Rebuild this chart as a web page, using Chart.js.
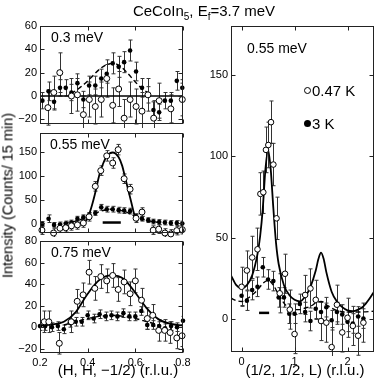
<!DOCTYPE html>
<html><head><meta charset="utf-8">
<script src="https://cdn.jsdelivr.net/npm/chart.js@4.4.1/dist/chart.umd.min.js"></script>
<style>
html,body{margin:0;padding:0;background:#fff;}
#wrap{position:relative;width:382px;height:385px;overflow:hidden;font-family:"Liberation Sans",Arial,sans-serif;color:#000;}
canvas{position:absolute;left:0;top:0;}
.t{position:absolute;white-space:nowrap;line-height:17px;}
sub{font-size:10px;vertical-align:-4px;line-height:0;}
.mk{position:absolute;border-radius:50%;box-sizing:border-box;}
</style></head><body>
<div id="wrap">
<canvas id="c1" width="382" height="385"></canvas>
<canvas id="c2" width="382" height="385"></canvas>
<canvas id="c3" width="382" height="385"></canvas>
<canvas id="c4" width="382" height="385"></canvas>
<div class="t" style="left:0;width:408px;text-align:center;top:2px;font-size:15px">CeCoIn<sub>5</sub>, E<sub>f</sub>=3.7 meV</div>
<div class="t" style="left:-92px;top:187px;width:200px;text-align:center;font-size:14.5px;transform:rotate(-90deg)">Intensity (Counts/ 15 min)</div>
<div class="t" style="left:18px;width:200px;text-align:center;top:361px;font-size:15px">(H, H, −1/2) (r.l.u.)</div>
<div class="t" style="left:205px;width:200px;text-align:center;top:361px;font-size:15px">(1/2, 1/2, L) (r.l.u.)</div>
<div class="t" style="left:51px;top:29px;font-size:14px">0.3 meV</div>
<div class="t" style="left:50px;top:136px;font-size:14px">0.55 meV</div>
<div class="t" style="left:51px;top:244px;font-size:14px">0.75 meV</div>
<div class="t" style="left:247px;top:40px;font-size:14px">0.55 meV</div>
<div class="mk" style="left:304px;top:87px;width:7px;height:7px;border:1px solid #000;background:#fff"></div>
<div class="t" style="left:312px;top:82px;font-size:15px">0.47 K</div>
<div class="mk" style="left:304px;top:120px;width:7px;height:7px;background:#000"></div>
<div class="t" style="left:312px;top:115px;font-size:15px">3 K</div>
</div>
<script>
// ---------- tick values ----------
const leftXTicks = [0.2, 0.4, 0.6, 0.8];
const p1YTicks = [-20, 0, 20, 40, 60];
const p2YTicks = [0, 50, 100, 150];
const p3YTicks = [-20, 0, 20, 40, 60, 80];
const rightXTicks = [0, 1, 2];
const rightYTicks = [0, 50, 100, 150];

// ---------- panel 1 : 0.3 meV ----------
const p1OpenH = [0.233,0.258,0.283,0.332,0.357,0.382,0.407,0.432,0.457,0.480,0.505,0.530,0.553,0.578,0.603,0.628,0.653,0.677,0.700,0.749,0.797];
const p1OpenI = [-10,3,20,0,1,-16,-3,-9,-3,15,-8,6,-19,-3,-9,-13,1,-19,-4,-11,-3];
const p1OpenErr = [15,14,17,15,14,16,15,15,15,16,15,15,16,15,15,16,14,15,15,12,14];
const p1FillH = [0.210,0.236,0.259,0.284,0.308,0.332,0.357,0.382,0.406,0.432,0.457,0.480,0.505,0.530,0.553,0.578,0.603,0.628,0.654,0.676,0.700,0.724,0.749,0.774,0.797];
const p1FillI = [-4,4,-5,7,7,3,11,-3,9,9,15,19,28,25,29,39,21,7,1,-12,-14,-4,-4,13,7];
const p1FillErr = [7,8,7,7,7,7,8,7,8,8,8,8,9,9,9,9,8,8,7,7,7,7,7,8,7];
const p1DashH = [0.33,0.36,0.39,0.42,0.45,0.48,0.51,0.54,0.57,0.60,0.63,0.66];
const p1DashI = [2,6,11,17,23,27,28,25,19,12,6,2];
const p1SolidH = [0.2,0.8];
const p1SolidI = [0,0];

// ---------- panel 2 : 0.55 meV ----------
const p2OpenH = [0.208,0.257,0.284,0.308,0.332,0.357,0.382,0.406,0.432,0.455,0.480,0.505,0.528,0.553,0.578,0.603,0.628,0.675,0.698,0.724,0.749,0.774,0.797];
const p2OpenI = [-14,-20,-10,-9,-5,-3,1,14,78,111,142,127,155,94,72,11,24,-14,-12,-20,-22,-15,-13];
const p2OpenErr = [9,9,9,9,9,9,9,9,10,10,11,11,11,10,10,9,9,9,9,9,9,9,9];
const p2FillH = [0.210,0.236,0.259,0.284,0.308,0.332,0.357,0.382,0.406,0.432,0.457,0.480,0.505,0.530,0.553,0.578,0.603,0.628,0.654,0.676,0.700,0.724,0.749,0.774,0.797];
const p2FillI = [-1,10,-3,-2,0,2,10,13,17,22,34,30,30,28,27,26,15,10,7,4,3,2,1,1,0];
const p2FillErr = [5,8,5,5,5,5,5,5,5,5,6,6,6,6,6,6,5,5,5,5,5,5,5,5,5];
const p2SolidH = [0.39,0.40,0.415,0.43,0.45,0.465,0.48,0.505,0.53,0.545,0.555,0.575,0.59,0.60,0.61];
const p2SolidI = [4,11,33,61,104,126,141,149,139,121,101,61,30,11,4];
const p2DashH = [0.30,0.35,0.40,0.45,0.50,0.55,0.60,0.65,0.70];
const p2DashI = [1,5,14,25,30,26,15,6,2];
const p2ResH = [0.463,0.539];
const p2ResI = [2,2];

// ---------- panel 3 : 0.75 meV ----------
const p3OpenH = [0.218,0.237,0.281,0.331,0.356,0.381,0.406,0.430,0.455,0.480,0.505,0.528,0.553,0.578,0.600,0.626,0.650,0.673,0.698,0.723,0.746,0.774,0.796];
const p3OpenI = [5,5,-15,5,24,30,51,36,47,43,48,35,42,31,43,25,8,11,-3,-3,-5,-10,-8];
const p3OpenErr = [10,10,10,10,11,11,11,11,11,11,11,11,11,11,11,11,10,10,10,10,10,10,10];
const p3FillH = [0.200,0.222,0.250,0.275,0.300,0.325,0.350,0.375,0.400,0.425,0.450,0.475,0.500,0.525,0.550,0.575,0.600,0.625,0.650,0.675,0.700,0.725,0.750,0.775,0.800];
const p3FillI = [1,1,0,1,-2,4,5,5,11,8,12,10,11,10,13,10,10,15,2,2,1,-1,1,0,6];
const p3FillErr = [4,4,4,4,4,4,4,4,4,4,4,4,4,4,4,4,4,4,4,4,4,4,4,4,4];
const p3SolidH = [0.20,0.25,0.30,0.35,0.40,0.45,0.50,0.55,0.60,0.65,0.70,0.75,0.80];
const p3SolidI = [1.5,2.5,5,14,31,44,48,45,32,17,7,3,1.5];
const p3DashH = [0.30,0.35,0.40,0.45,0.50,0.55,0.60,0.65,0.70];
const p3DashI = [2,5,8,10,11,10,8,5,2];

// ---------- right panel : (1/2,1/2,L), 0.55 meV ----------
const rOpenL = [0.0,0.1,0.2,0.3,0.355,0.41,0.46,0.505,0.555,0.6,0.66,0.72,0.82,0.91,1.0,1.2,1.3,1.4,1.5,1.6,1.7,1.8,1.9,2.0,2.1,2.2,2.3];
const rOpenI = [20,30,38,43,77,78,104,107,121,95,62,16,28,6,-9,15,19,12,-1,-2,-17,9,-8,1,-4,-10,-2];
const rOpenErr = [12,12,13,13,13,13,14,14,13,13,13,12,12,12,12,12,12,12,12,12,12,12,12,12,12,12,12];
const rFillL = [0.0,0.1,0.2,0.3,0.4,0.5,0.6,0.7,0.8,0.9,1.0,1.1,1.2,1.3,1.4,1.5,1.6,1.7,1.8,1.9,2.0,2.1,2.2,2.3];
const rFillI = [14.5,11.5,18,20,32,24.5,23.5,13.5,13.5,3.5,3.5,9.5,4.5,-1,6.5,4.5,7.5,-0.5,4.5,3,-1.5,-2.5,1.8,0.5];
const rFillErr = [6,6,6,6,6,6,6,6,6,6,6,6,6,6,6,6,6,6,6,6,6,6,6,6];
const rSolidL = [-0.2,-0.1,0,0.1,0.2,0.3,0.35,0.4,0.45,0.5,0.55,0.6,0.65,0.7,0.8,0.9,1.0,1.1,1.2,1.3,1.4,1.45,1.5,1.55,1.6,1.7,1.8,1.9,2.0,2.1,2.2,2.3,2.4,2.5];
const rSolidI = [27,21,19,21,27,40,51,68,92,104,92,68,47,34,21,15,12,11,14,20,30,37,41,37,29,17,11,7.5,5.5,5,6,8,12,17];
const rDashL = [-0.2,-0.1,0,0.1,0.2,0.3,0.4,0.5,0.6,0.7,0.8,0.9,1.0,1.1,1.2,1.3,1.4,1.5,1.6,1.7,1.8,2.0,2.2,2.5];
const rDashI = [13,11.5,11,12.5,15,18,22,24,21,15,10,7,6,6,7,8,10,11,9,7,5.5,4.5,4.5,5];
const rResL = [0.33,0.52];
const rResI = [4,4];

// ---------- helpers ----------
Chart.defaults.font.family = '"Liberation Sans", Arial, sans-serif';
Chart.defaults.color = '#000';
const pts = (xs, ys) => xs.map((x, i) => ({x: x, y: ys[i]}));
const fmt = v => (v < 0 ? '\u2212' : '') + Math.abs(v);

const openStyle = {showLine:false, pointStyle:'circle', pointRadius:3, pointBackgroundColor:'#fff', pointBorderColor:'#000', pointBorderWidth:1, order:0, clip:5};
const fillStyle = {showLine:false, pointStyle:'circle', pointRadius:2.3, pointBackgroundColor:'#000', pointBorderColor:'#000', pointBorderWidth:0, order:1, clip:5};
const solidStyle = {showLine:true, pointRadius:0, borderColor:'#000', borderWidth:1.8, cubicInterpolationMode:'monotone', order:3, fill:false};
const dashStyle = Object.assign({}, solidStyle, {borderDash:[5,3], borderWidth:1.4, order:2});
const barStyle = {showLine:true, pointRadius:0, borderColor:'#000', borderWidth:2.5, order:2, fill:false};

const errPlugin = {
  id: 'errbars',
  beforeDatasetsDraw(chart) {
    const {ctx, chartArea: a, scales: {x, y}} = chart;
    ctx.save();
    ctx.beginPath(); ctx.rect(a.left, a.top - 4, a.right - a.left, a.bottom - a.top + 8); ctx.clip();
    ctx.strokeStyle = '#333'; ctx.lineWidth = 1;
    chart.data.datasets.forEach(ds => {
      if (!ds.err) return;
      ds.data.forEach((p, i) => {
        const e = ds.err[i];
        const px = Math.round(x.getPixelForValue(p.x)) + 0.5;
        const y1 = y.getPixelForValue(p.y + e), y2 = y.getPixelForValue(p.y - e);
        ctx.beginPath();
        ctx.moveTo(px, y1); ctx.lineTo(px, y2);
        ctx.moveTo(px - 2, y1); ctx.lineTo(px + 2, y1);
        ctx.moveTo(px - 2, y2); ctx.lineTo(px + 2, y2);
        ctx.stroke();
      });
    });
    ctx.restore();
  }
};

function framePlugin(xT, yT) {
  return {
    id: 'frame',
    afterDraw(chart) {
      const {ctx, chartArea: a, scales: {x, y}} = chart;
      ctx.save();
      ctx.strokeStyle = '#222'; ctx.lineWidth = 1;
      const L = Math.round(a.left) + 0.5, R = Math.round(a.right) - 0.5;
      const T = Math.round(a.top) + 0.5, B = Math.round(a.bottom) - 0.5;
      ctx.strokeRect(L, T, R - L, B - T);
      ctx.beginPath();
      const tl = 4;
      xT.forEach(v => { const p = Math.round(x.getPixelForValue(v)) + 0.5;
        ctx.moveTo(p, B); ctx.lineTo(p, B - tl); ctx.moveTo(p, T); ctx.lineTo(p, T + tl); });
      yT.forEach(v => { const p = Math.round(y.getPixelForValue(v)) + 0.5;
        ctx.moveTo(L, p); ctx.lineTo(L + tl, p); ctx.moveTo(R, p); ctx.lineTo(R - tl, p); });
      ctx.stroke();
      ctx.restore();
    }
  };
}

function makePanel(id, c) {
  return new Chart(document.getElementById(id), {
    type: 'scatter',
    data: {datasets: c.datasets},
    options: {
      responsive: false, animation: false, events: [],
      layout: {padding: c.padding},
      plugins: {legend: {display: false}, tooltip: {enabled: false}},
      scales: {
        x: {type: 'linear', min: c.xMin, max: c.xMax, display: c.xLabels,
            afterFit: s => { s.height = c.xLabels ? c.xH : 0; },
            afterBuildTicks: s => { s.ticks = c.xTicks.map(v => ({value: v})); },
            grid: {display: false, drawTicks: false}, border: {display: false},
            ticks: {padding: 3, font: {size: 11}, color: '#000', callback: fmt, maxRotation: 0, autoSkip: false}},
        y: {type: 'linear', min: c.yMin, max: c.yMax,
            afterFit: s => { s.width = 40; },
            afterBuildTicks: s => { s.ticks = c.yTicks.map(v => ({value: v})); },
            grid: {display: false, drawTicks: false}, border: {display: false},
            ticks: {padding: 3, font: {size: 11}, color: '#000', callback: fmt, autoSkip: false}}
      }
    },
    plugins: [errPlugin, framePlugin(c.xTicks, c.yTicks)]
  });
}

makePanel('c1', {
  padding: {left: 0, top: 26, right: 199, bottom: 261},
  xMin: 0.2, xMax: 0.8, yMin: -24, yMax: 60, xTicks: leftXTicks, yTicks: p1YTicks, xLabels: false,
  datasets: [
    Object.assign({data: pts(p1OpenH, p1OpenI), err: p1OpenErr}, openStyle),
    Object.assign({data: pts(p1FillH, p1FillI), err: p1FillErr}, fillStyle),
    Object.assign({data: pts(p1DashH, p1DashI)}, dashStyle),
    Object.assign({data: pts(p1SolidH, p1SolidI)}, solidStyle, {borderWidth: 1.5})
  ]
});

makePanel('c2', {
  padding: {left: 0, top: 133, right: 199, bottom: 152},
  xMin: 0.2, xMax: 0.8, yMin: -20, yMax: 190, xTicks: leftXTicks, yTicks: p2YTicks, xLabels: false,
  datasets: [
    Object.assign({data: pts(p2OpenH, p2OpenI), err: p2OpenErr}, openStyle),
    Object.assign({data: pts(p2FillH, p2FillI), err: p2FillErr}, fillStyle),
    Object.assign({data: pts(p2DashH, p2DashI)}, dashStyle),
    Object.assign({data: pts(p2SolidH, p2SolidI)}, solidStyle),
    Object.assign({data: pts(p2ResH, p2ResI)}, barStyle)
  ]
});

makePanel('c3', {
  padding: {left: 0, top: 241, right: 199, bottom: 0},
  xMin: 0.2, xMax: 0.8, yMin: -24, yMax: 80, xTicks: leftXTicks, yTicks: p3YTicks, xLabels: true, xH: 32,
  datasets: [
    Object.assign({data: pts(p3OpenH, p3OpenI), err: p3OpenErr}, openStyle),
    Object.assign({data: pts(p3FillH, p3FillI), err: p3FillErr}, fillStyle),
    Object.assign({data: pts(p3DashH, p3DashI)}, dashStyle),
    Object.assign({data: pts(p3SolidH, p3SolidI)}, solidStyle)
  ]
});

makePanel('c4', {
  padding: {left: 191, top: 26, right: 8, bottom: 0},
  xMin: -0.2, xMax: 2.5, yMin: -20, yMax: 180, xTicks: rightXTicks, yTicks: rightYTicks, xLabels: true, xH: 33,
  datasets: [
    Object.assign({data: pts(rOpenL, rOpenI), err: rOpenErr}, openStyle, {pointRadius: 2.8}),
    Object.assign({data: pts(rFillL, rFillI), err: rFillErr}, fillStyle),
    Object.assign({data: pts(rDashL, rDashI)}, dashStyle),
    Object.assign({data: pts(rSolidL, rSolidI)}, solidStyle),
    Object.assign({data: pts(rResL, rResI)}, barStyle)
  ]
});
</script>
</body></html>
